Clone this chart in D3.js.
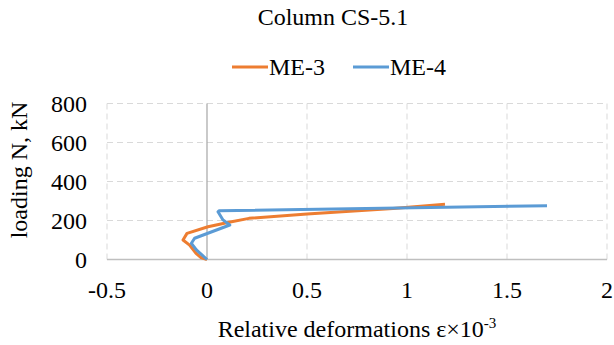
<!DOCTYPE html>
<html>
<head>
<meta charset="utf-8">
<script src="https://cdn.jsdelivr.net/npm/d3@7"></script>
<style>
  body { margin: 0; background: #fff; }
</style>
</head>
<body>
<div id="chart"></div>
<script>
// series data
const me3Strain = [0, -0.03, -0.055, -0.087, -0.12, -0.10, 0.005, 0.11, 0.21, 0.5, 0.93, 1.19];
const me3Load   = [0, 10, 32, 74, 100, 134, 168, 191, 211, 233, 262, 283];
const me4Strain = [0, -0.053, -0.078, -0.062, 0.114, 0.08, 0.055, 0.06, 1.70];
const me4Load   = [0, 49, 83, 109, 177, 203, 245, 250, 276];
const xTicks = [-0.5, 0, 0.5, 1, 1.5, 2];
const yTicks = [0, 200, 400, 600, 800];
const seriesNames = ["ME-3", "ME-4"];
const seriesColors = ["#ED7D31", "#5B9BD5"];

const width = 614, height = 345;
const margin = { left: 107, right: 7, top: 103.5, bottom: 85.5 };
const fontFam = "'Liberation Serif', 'DejaVu Serif', serif";

const svg = d3.select("#chart").append("svg")
    .attr("width", width)
    .attr("height", height)
    .style("font-family", fontFam);

const x = d3.scaleLinear().domain([-0.5, 2]).range([margin.left, width - margin.right]);
const y = d3.scaleLinear().domain([0, 800]).range([height - margin.bottom, margin.top]);

// gridlines
svg.append("g").selectAll("line")
    .data(yTicks.filter(d => d > 0))
    .join("line")
    .attr("x1", x(-0.5)).attr("x2", x(2))
    .attr("y1", d => y(d)).attr("y2", d => y(d))
    .attr("stroke", "#D9D9D9").attr("stroke-dasharray", "6,4");

svg.append("g").selectAll("line")
    .data(xTicks.filter(d => d !== 0))
    .join("line")
    .attr("x1", d => x(d)).attr("x2", d => x(d))
    .attr("y1", y(0)).attr("y2", y(800))
    .attr("stroke", "#D9D9D9").attr("stroke-dasharray", "6,4");

// axis lines (y axis crosses at x = 0)
svg.append("line")
    .attr("x1", x(-0.5)).attr("x2", x(2))
    .attr("y1", y(0)).attr("y2", y(0))
    .attr("stroke", "#BFBFBF").attr("stroke-width", 1.5);
svg.append("line")
    .attr("x1", x(0)).attr("x2", x(0))
    .attr("y1", y(0)).attr("y2", y(800))
    .attr("stroke", "#A6A6A6").attr("stroke-width", 1.2);

// tick labels
svg.append("g").selectAll("text")
    .data(xTicks)
    .join("text")
    .attr("x", d => x(d))
    .attr("y", y(0) + 38)
    .attr("text-anchor", "middle")
    .style("font-size", "24px")
    .text(d => d);

svg.append("g").selectAll("text")
    .data(yTicks)
    .join("text")
    .attr("x", 87)
    .attr("y", d => y(d) + 8)
    .attr("text-anchor", "end")
    .style("font-size", "24px")
    .text(d => d);

// lines
const line = d3.line().x(d => x(d[0])).y(d => y(d[1]));
const series = [d3.zip(me3Strain, me3Load), d3.zip(me4Strain, me4Load)];

svg.append("g").selectAll("path")
    .data(series)
    .join("path")
    .attr("d", line)
    .attr("fill", "none")
    .attr("stroke", (d, i) => seriesColors[i])
    .attr("stroke-width", 3)
    .attr("stroke-linejoin", "round");

// title
svg.append("text")
    .attr("x", 333).attr("y", 25)
    .attr("text-anchor", "middle")
    .style("font-size", "24px")
    .text("Column CS-5.1");

// legend
const legendX = [232, 353];
const lg = svg.append("g").selectAll("g")
    .data(seriesNames)
    .join("g")
    .attr("transform", (d, i) => `translate(${legendX[i]},67)`);
lg.append("line")
    .attr("x1", 0).attr("x2", 36)
    .attr("stroke", (d, i) => seriesColors[i])
    .attr("stroke-width", 3);
lg.append("text")
    .attr("x", 37).attr("y", 8)
    .style("font-size", "24px")
    .text(d => d);

// axis titles
svg.append("text")
    .attr("transform", "translate(27,170) rotate(-90)")
    .attr("text-anchor", "middle")
    .style("font-size", "24px")
    .text("loading N, kN");

const xt = svg.append("text")
    .attr("x", x(0.75)).attr("y", 337)
    .attr("text-anchor", "middle")
    .style("font-size", "24px");
xt.append("tspan").text("Relative deformations ε×10");
xt.append("tspan").attr("dy", -9).style("font-size", "15px").text("-3");
</script>
</body>
</html>
